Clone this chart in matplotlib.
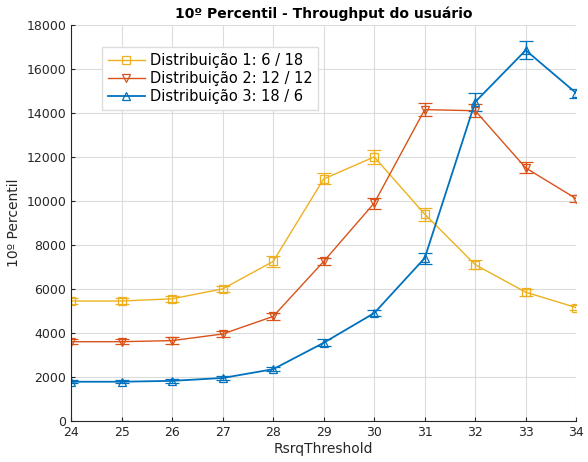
import matplotlib

matplotlib.use("Agg")
import matplotlib.pyplot as plt
from matplotlib.lines import Line2D

threshold = [24, 25, 26, 27, 28, 29, 30, 31, 32, 33, 34]

dist1 = [5450, 5450, 5550, 6000, 7250, 11000, 12000, 9400, 7100, 5850, 5150]
dist1_err = [150, 150, 150, 150, 250, 250, 300, 300, 200, 150, 100]

dist2 = [3600, 3600, 3650, 3950, 4750, 7250, 9900, 14150, 14100, 11500, 10100]
dist2_err = [100, 100, 150, 150, 150, 150, 250, 300, 300, 250, 150]

dist3 = [1780, 1780, 1820, 1950, 2350, 3550, 4900, 7400, 14500, 16850, 14900]
dist3_err = [80, 80, 80, 100, 100, 150, 150, 250, 400, 400, 200]

labels = ["Distribuição 1: 6 / 18", "Distribuição 2: 12 / 12", "Distribuição 3: 18 / 6"]
colors = ["#EDB120", "#D95319", "#0072BD"]
markers = ["s", "v", "^"]

fig = plt.figure(figsize=(5.88, 4.62), dpi=100)
ax = fig.add_axes([0.121, 0.089, 0.859, 0.857])

series = [(dist1, dist1_err), (dist2, dist2_err), (dist3, dist3_err)]
handles = []
for (vals, errs), lab, col, mk in zip(series, labels, colors, markers):
    lw = 1.3 if mk == "^" else 1.0
    ax.errorbar(threshold, vals, yerr=errs, color=col, marker=mk, markersize=5.5,
                markerfacecolor="none", markeredgewidth=0.9, linewidth=lw,
                elinewidth=1.0, capsize=5, capthick=1.0)
    handles.append(Line2D([], [], color=col, marker=mk, markersize=5.5,
                          markerfacecolor="none", markeredgewidth=0.9,
                          linewidth=lw, label=lab))

ax.set_xlim(24, 34)
ax.set_ylim(0, 18000)
ax.set_xticks(range(24, 35))
ax.set_yticks(range(0, 18001, 2000))
ax.grid(True, color="#dcdcdc", linewidth=0.8)
ax.set_axisbelow(True)
ax.tick_params(direction="in", labelsize=9, colors="#262626", length=3)
for side in ("top", "right"):
    ax.spines[side].set_visible(False)
for side in ("left", "bottom"):
    ax.spines[side].set_color("#262626")
    ax.spines[side].set_linewidth(0.8)

ax.set_xlabel("RsrqThreshold", fontsize=10, color="#262626", labelpad=2)
ax.set_ylabel("10º Percentil", fontsize=10, color="#262626")
ax.set_title("10º Percentil - Throughput do usuário", fontsize=10, fontweight="bold", pad=5)

leg = ax.legend(handles=handles, loc="upper left", bbox_to_anchor=(0.046, 0.962),
                fontsize=10.5, fancybox=False, framealpha=1, edgecolor="#dcdcdc",
                handlelength=2.6, handletextpad=0.3, borderpad=0.4, labelspacing=0.2)

fig.savefig("out.png", dpi=100)
